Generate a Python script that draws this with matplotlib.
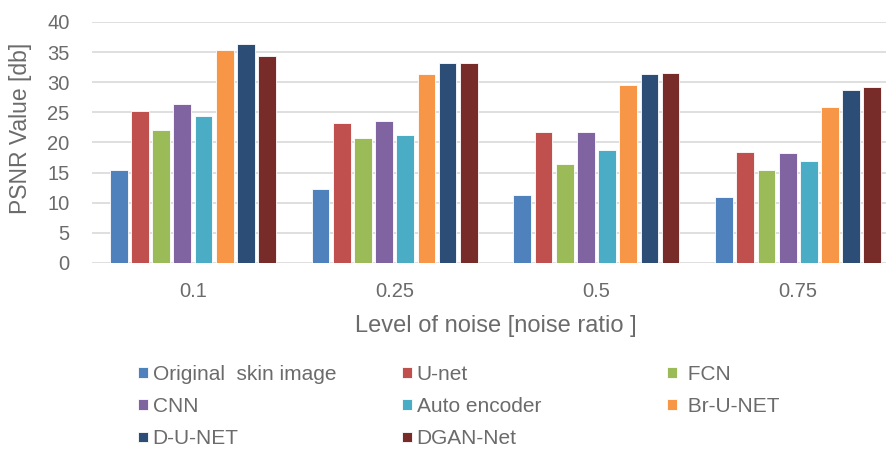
import numpy as np
import matplotlib as mpl
mpl.use("Agg")
import matplotlib.pyplot as plt
mpl.rcParams.update({"font.family": ["Liberation Sans", "DejaVu Sans"],
                     "axes.unicode_minus": False})

noise_levels = ["0.1", "0.25", "0.5", "0.75"]
methods = ["Original  skin image", "U-net", " FCN", "CNN", "Auto encoder",
           " Br-U-NET", "D-U-NET", "DGAN-Net"]
original = [15.4, 12.3, 11.3, 10.9]
unet = [25.2, 23.2, 21.7, 18.4]
fcn = [22.1, 20.7, 16.4, 15.5]
cnn = [26.4, 23.5, 21.7, 18.2]
autoenc = [24.4, 21.2, 18.7, 16.9]
br_unet = [35.3, 31.3, 29.5, 25.8]
d_unet = [36.4, 33.2, 31.3, 28.7]
dgan = [34.3, 33.2, 31.6, 29.2]
series = [original, unet, fcn, cnn, autoenc, br_unet, d_unet, dgan]
colors = ["#4F81BD", "#C0504D", "#9BBB59", "#8064A2", "#4BACC6",
          "#F79646", "#2C4D75", "#772C2A"]

TXT = "#6B6B6B"


def main():
    fig = plt.figure(figsize=(8.86, 4.49), dpi=100)
    ax = fig.add_axes([0.1038, 0.4143, 0.911, 0.537])

    x = np.arange(len(noise_levels))
    pitch = 0.105
    handles = []
    for i, vals in enumerate(series):
        off = (i - 3.5) * pitch
        b = ax.bar(x + off, vals, width=0.088, color=colors[i],
                   edgecolor="white", linewidth=0.6, zorder=3, label=methods[i])
        handles.append(b)

    ax.set_xlim(-0.5, 3.5)
    ax.set_ylim(0, 40)
    ax.set_yticks(range(0, 41, 5))
    ax.set_xticks(x)
    ax.set_xticklabels(noise_levels)
    ax.grid(axis="y", color="#D9D9D9", linewidth=1.2, zorder=0)
    for s in ax.spines.values():
        s.set_visible(False)
    ax.tick_params(axis="both", length=0, labelsize=14.5, colors=TXT)
    ax.tick_params(axis="y", pad=16)
    ax.tick_params(axis="x", pad=14)

    ax.set_xlabel("Level of noise [noise ratio ]", fontsize=17, color=TXT, labelpad=10)
    ax.set_ylabel("PSNR Value [db]", fontsize=16.5, color=TXT)
    ax.yaxis.set_label_coords(-0.074, 0.56)

    # legend laid out in three fixed columns like the original
    cols = [[0, 3, 6], [1, 4, 7], [2, 5]]
    col_x = [138, 402, 667]
    for cx, idxs in zip(col_x, cols):
        fig.legend([handles[k] for k in idxs], [methods[k] for k in idxs],
                   loc="upper left", bbox_to_anchor=(cx / 886, 1 - 365 / 449),
                   frameon=False, fontsize=15, labelcolor=TXT,
                   handlelength=0.5, handleheight=0.4, handletextpad=0.2,
                   labelspacing=0.63, borderpad=0, borderaxespad=0)

    plt.savefig("out.png")


if __name__ == "__main__":
    main()
